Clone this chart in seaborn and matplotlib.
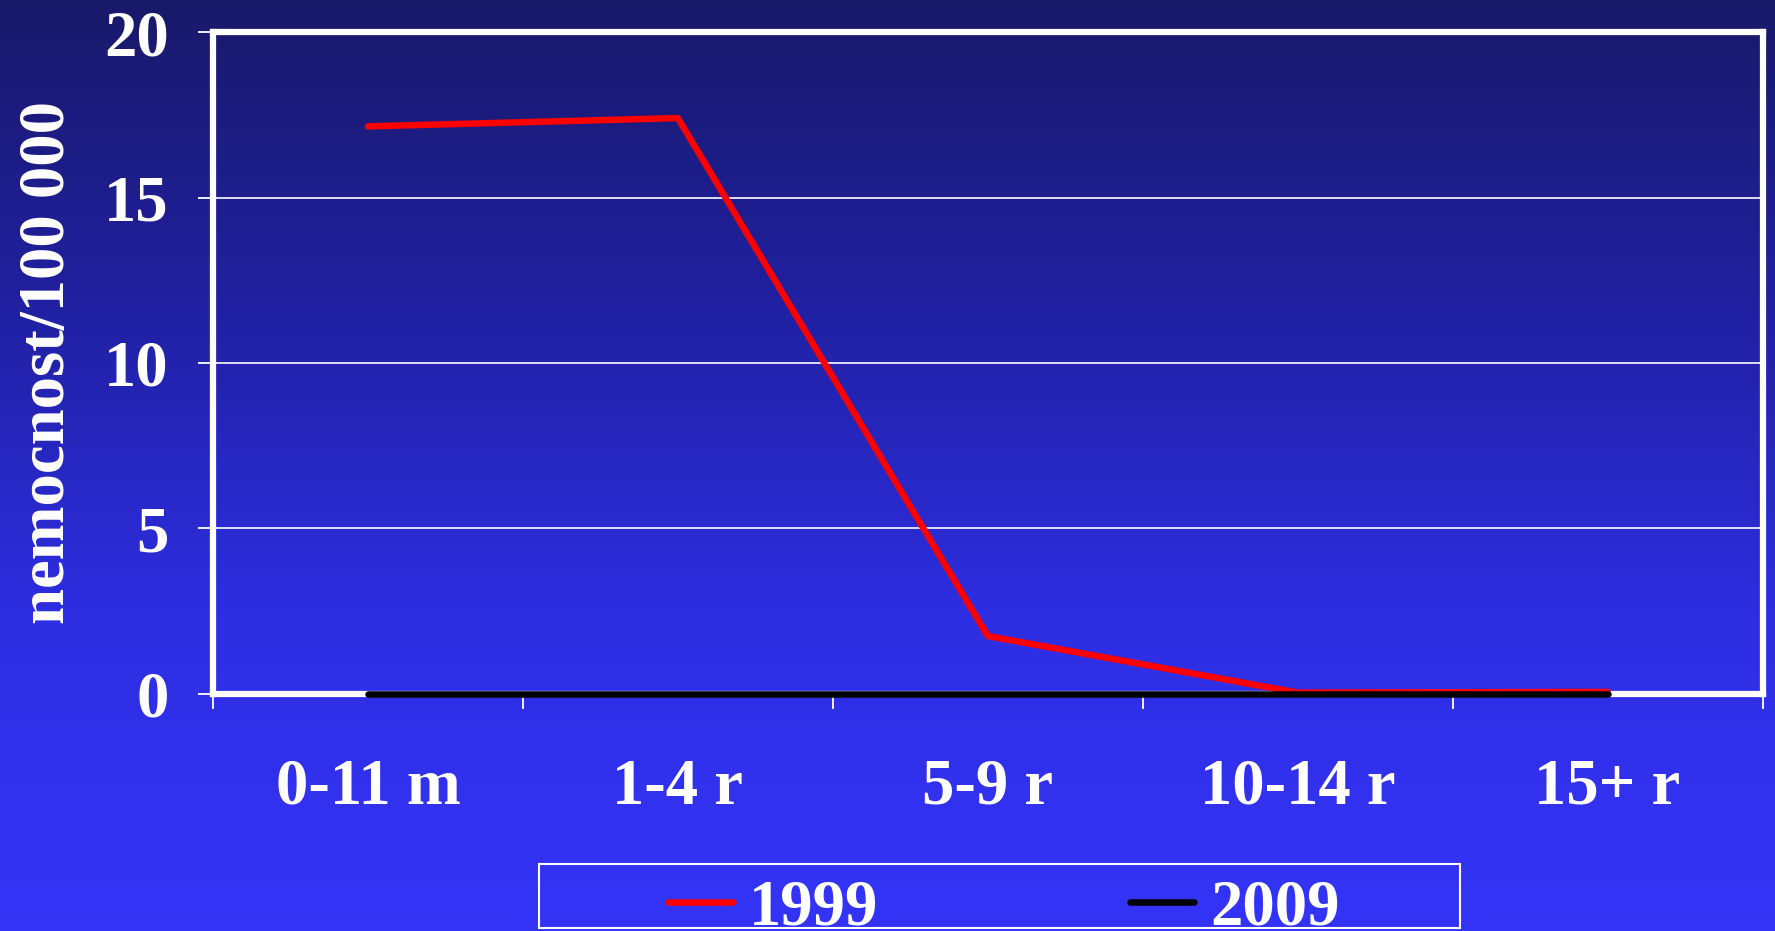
import numpy as np
import pandas as pd
import matplotlib
matplotlib.use("Agg")
import matplotlib.pyplot as plt
from matplotlib.colors import LinearSegmentedColormap
from matplotlib.patches import Rectangle
import seaborn as sns

# data
categories = ["0-11 m", "1-4 r", "5-9 r", "10-14 r", "15+ r"]
vals_1999 = [17.15, 17.4, 1.75, 0.04, 0.06]
vals_2009 = [0.0, 0.0, 0.0, 0.0, 0.0]
years = ["1999", "2009"]

df = pd.DataFrame({
    "vek": categories * 2,
    "nemocnost": vals_1999 + vals_2009,
    "rok": [years[0]] * 5 + [years[1]] * 5,
})

sns.set_style("white")
plt.rcParams["font.family"] = ["Liberation Serif", "DejaVu Serif"]
plt.rcParams["font.weight"] = "bold"
fs = 46.5

fig = plt.figure(figsize=(17.75, 9.31), dpi=100)

# gradient background
bg = fig.add_axes([0, 0, 1, 1], zorder=-10)
cmap = LinearSegmentedColormap.from_list(
    "bg", [(0.0, "#19196a"), (0.32, "#2020a0"), (0.66, "#2e2ee2"), (1.0, "#3434f8")])
grad = np.linspace(0, 1, 256).reshape(-1, 1)
bg.imshow(grad, aspect="auto", cmap=cmap, extent=[0, 1, 0, 1], origin="upper")
bg.axis("off")

ax = fig.add_axes([0.120, 0.2546, 0.873, 0.711])
ax.set_facecolor("none")

sns.lineplot(data=df, x="vek", y="nemocnost", hue="rok",
             palette={"1999": "#ff0000", "2009": "#000000"},
             linewidth=4.7, ax=ax, legend=False,
             solid_capstyle="round")
for ln in ax.lines:
    ln.set_clip_on(False)
    ln.set_zorder(3)

ax.set_xlim(-0.5, 4.5)
ax.set_ylim(0, 20)
ax.set_yticks([0, 5, 10, 15, 20])
ax.yaxis.grid(True, color="white", linewidth=1.2)
ax.set_axisbelow(True)

# tick marks between categories, labels at category centres
ax.set_xticks(np.arange(-0.5, 5, 1))
ax.set_xticklabels([])
ax.set_xticks(range(len(categories)), minor=True)
ax.set_xticklabels(categories, minor=True)
ax.tick_params(axis="x", which="major", length=11, width=1.3, color="white",
               direction="out", bottom=True)
ax.tick_params(axis="x", which="minor", length=0, pad=46, labelsize=fs,
               labelcolor="white")
ax.tick_params(axis="y", length=11, width=1.3, color="white", direction="out",
               left=True, pad=21, labelsize=fs, labelcolor="white")
for lab in ax.get_xticklabels(minor=True) + ax.get_yticklabels():
    lab.set_fontweight("bold")

for sp in ax.spines.values():
    sp.set_visible(True)
    sp.set_color("white")
    sp.set_linewidth(4.5)

ax.set_xlabel("")
ax.set_ylabel("nemocnost/100 000", fontsize=fs, color="white", fontweight="bold")
ax.yaxis.set_label_coords(-0.087, 0.5)

# legend
handles = [plt.Line2D([], [], color="#ff0000", lw=4.7, solid_capstyle="round"),
           plt.Line2D([], [], color="#000000", lw=4.7, solid_capstyle="round")]
leg = fig.legend(handles, years, loc="center left",
                 bbox_to_anchor=(0.3763, 0.024), ncol=2, frameon=False,
                 borderpad=0, borderaxespad=0, handlelength=1.0,
                 handletextpad=0.25, columnspacing=3.9,
                 prop={"size": fs, "weight": "bold"})
for t in leg.get_texts():
    t.set_color("white")
fig.patches.append(Rectangle((0.3037, 0.003), 0.519, 0.069,
                             transform=fig.transFigure, fill=False,
                             edgecolor="white", linewidth=1.5))

fig.savefig("out.png", dpi=100)
